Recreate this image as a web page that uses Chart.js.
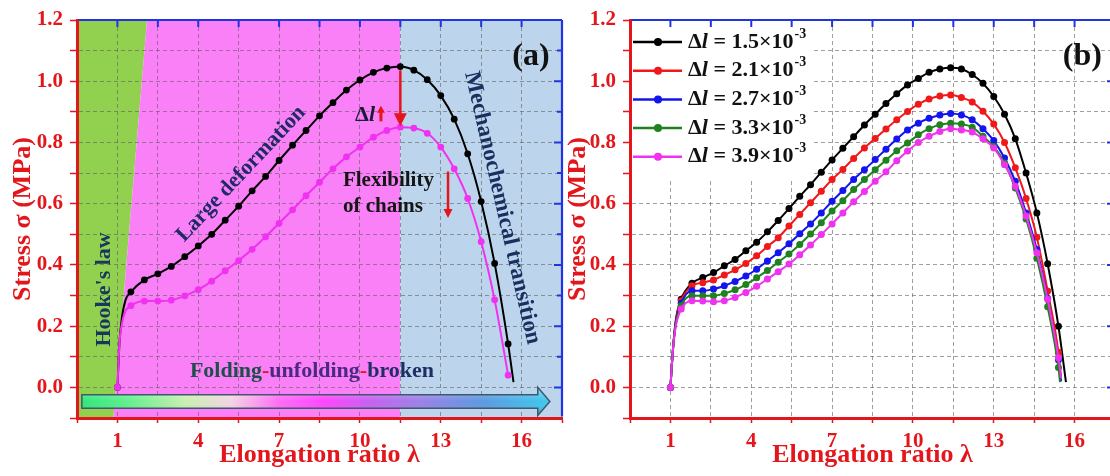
<!DOCTYPE html>
<html>
<head>
<meta charset="utf-8">
<style>
html,body{margin:0;padding:0;width:1110px;height:476px;overflow:hidden;background:#fff;}
#ca{position:absolute;left:0;top:0;}
#cb{position:absolute;left:553px;top:0;}
</style>
<script src="https://cdn.jsdelivr.net/npm/chart.js@4.4.1/dist/chart.umd.min.js"></script>
</head>
<body>
<canvas id="ca" width="570" height="476"></canvas>
<canvas id="cb" width="570" height="476"></canvas>
<script>
// ---------- axis ticks ----------
const xTickValues = [-0.5, 1, 2.5, 4, 5.5, 7, 8.5, 10, 11.5, 13, 14.5, 16, 17.5];
const xTickLabels = ['', '1', '', '4', '', '7', '', '10', '', '13', '', '16', ''];
const yTickValues = [-0.1, 0, 0.1, 0.2, 0.3, 0.4, 0.5, 0.6, 0.7, 0.8, 0.9, 1.0, 1.1, 1.2];
const yTickLabels = ['', '0.0', '', '0.2', '', '0.4', '', '0.6', '', '0.8', '', '1.0', '', '1.2'];

// ---------- panel (a) ----------
const aBlackX = [1, 1.08, 1.17, 1.3, 1.5, 2, 2.5, 3, 3.5, 4, 4.5, 5, 5.5, 6, 6.5, 7, 7.5, 8, 8.5, 9, 9.5, 10, 10.5, 11, 11.5, 12, 12.5, 13, 13.5, 14, 14.5, 15, 15.5, 15.7];
const aBlackY = [0, 0.15, 0.23, 0.285, 0.312, 0.351, 0.371, 0.395, 0.427, 0.462, 0.50, 0.546, 0.592, 0.642, 0.689, 0.741, 0.791, 0.839, 0.887, 0.930, 0.971, 1.004, 1.029, 1.043, 1.048, 1.036, 1.005, 0.953, 0.876, 0.763, 0.607, 0.405, 0.142, 0.017];
const aPinkX = [1, 1.08, 1.17, 1.3, 1.5, 2, 2.5, 3, 3.5, 4, 4.5, 5, 5.5, 6, 6.5, 7, 7.5, 8, 8.5, 9, 9.5, 10, 10.5, 11, 11.5, 12, 12.5, 13, 13.5, 14, 14.5, 15, 15.5];
const aPinkY = [0, 0.15, 0.21, 0.25, 0.267, 0.282, 0.282, 0.285, 0.299, 0.319, 0.347, 0.381, 0.414, 0.451, 0.492, 0.536, 0.580, 0.626, 0.670, 0.714, 0.753, 0.785, 0.817, 0.839, 0.850, 0.847, 0.830, 0.785, 0.714, 0.617, 0.476, 0.286, 0.04];

// ---------- panel (b) ----------
const bX = [1, 1.1, 1.2, 1.4, 1.8, 2.2, 2.6, 3.0, 3.4, 3.8, 4.2, 4.6, 5.0, 5.4, 5.8, 6.2, 6.6, 7.0, 7.4, 7.8, 8.2, 8.6, 9.0, 9.4, 9.8, 10.2, 10.6, 11.0, 11.4, 11.8, 12.2, 12.6, 13.0, 13.4, 13.8, 14.2, 14.6, 15.0, 15.4];
const bBlack = [0, 0.13, 0.22, 0.288, 0.34, 0.359, 0.375, 0.397, 0.418, 0.446, 0.474, 0.508, 0.545, 0.584, 0.624, 0.662, 0.703, 0.743, 0.781, 0.819, 0.857, 0.892, 0.927, 0.959, 0.988, 1.009, 1.029, 1.040, 1.044, 1.040, 1.022, 0.993, 0.950, 0.892, 0.812, 0.70, 0.57, 0.404, 0.20];
const bRed = [0, 0.13, 0.215, 0.283, 0.332, 0.342, 0.351, 0.367, 0.384, 0.405, 0.43, 0.46, 0.489, 0.527, 0.565, 0.603, 0.641, 0.679, 0.712, 0.748, 0.782, 0.813, 0.844, 0.874, 0.901, 0.925, 0.942, 0.952, 0.955, 0.947, 0.932, 0.902, 0.86, 0.80, 0.717, 0.617, 0.49, 0.315, 0.115];
const bBlue = [0, 0.13, 0.21, 0.275, 0.316, 0.316, 0.321, 0.332, 0.346, 0.364, 0.386, 0.413, 0.44, 0.469, 0.502, 0.534, 0.57, 0.608, 0.643, 0.679, 0.711, 0.744, 0.778, 0.811, 0.841, 0.863, 0.879, 0.89, 0.895, 0.89, 0.874, 0.845, 0.806, 0.749, 0.673, 0.57, 0.45, 0.29, 0.09];
const bGreen = [0, 0.13, 0.205, 0.267, 0.299, 0.299, 0.299, 0.307, 0.319, 0.336, 0.358, 0.382, 0.409, 0.436, 0.467, 0.501, 0.538, 0.576, 0.61, 0.646, 0.679, 0.711, 0.742, 0.773, 0.798, 0.825, 0.845, 0.858, 0.863, 0.86, 0.85, 0.82, 0.787, 0.733, 0.651, 0.55, 0.422, 0.263, 0.065];
const bPink = [0, 0.13, 0.2, 0.256, 0.283, 0.282, 0.28, 0.283, 0.294, 0.31, 0.33, 0.354, 0.378, 0.403, 0.433, 0.465, 0.499, 0.534, 0.57, 0.606, 0.64, 0.673, 0.704, 0.74, 0.772, 0.80, 0.82, 0.836, 0.845, 0.841, 0.834, 0.812, 0.782, 0.727, 0.657, 0.56, 0.44, 0.288, 0.097];
const bEndX = [15.68, 15.5, 15.5, 15.46, 15.5];
const bEndY = [0.017, 0.03, 0.02, 0.017, 0.03];
const bDl = ['1.5', '2.1', '2.7', '3.3', '3.9'];

// ---------- styles ----------
const RED = '#e3161c', BLUE = '#2035e0', GRID = 'rgba(95,95,95,0.6)';
const FONT = "'Liberation Serif', 'Times New Roman', serif";
Chart.defaults.font.family = FONT;
const bColors = ['#000000', '#f01818', '#1414ee', '#1e821e', '#f032f0'];

function pts(xs, ys) { return xs.map((x, i) => ({ x: x, y: ys[i] })); }
const markA = x => Math.abs(x * 2 - Math.round(x * 2)) < 1e-6;
const markB = x => x === 1 || (x >= 1.39 && x <= 15.41 && Math.abs((x - 1.4) / 0.4 - Math.round((x - 1.4) / 0.4)) < 1e-6);

function ds(data, color, order, markFn, r) {
  return {
    data: data, borderColor: color, backgroundColor: color, borderWidth: 2,
    pointBackgroundColor: color, pointBorderColor: color, pointBorderWidth: 0,
    pointRadius: c => (c.raw && markFn(c.raw.x)) ? r : 0,
    cubicInterpolationMode: 'monotone', tension: 0.4, order: order, fill: false
  };
}

function fontStr(size, italic) { return (italic ? 'italic ' : '') + 'bold ' + size + 'px ' + FONT; }
function P(chart, x, y) { return [chart.scales.x.getPixelForValue(x), chart.scales.y.getPixelForValue(y)]; }
function txt(ctx, s, x, y, size, color, rotDeg, align) {
  ctx.save();
  ctx.translate(x, y);
  ctx.rotate((rotDeg || 0) * Math.PI / 180);
  ctx.font = fontStr(size);
  ctx.fillStyle = color;
  ctx.textAlign = align || 'center';
  ctx.textBaseline = 'middle';
  ctx.fillText(s, 0, 0);
  ctx.restore();
}
function vArrow(ctx, x, yFrom, yTip, color, lw, headL, headW) {
  const dir = yTip > yFrom ? 1 : -1;
  ctx.save();
  ctx.strokeStyle = color; ctx.fillStyle = color; ctx.lineWidth = lw;
  ctx.beginPath(); ctx.moveTo(x, yFrom); ctx.lineTo(x, yTip - dir * headL * 0.6); ctx.stroke();
  ctx.beginPath(); ctx.moveTo(x, yTip); ctx.lineTo(x - headW / 2, yTip - dir * headL); ctx.lineTo(x + headW / 2, yTip - dir * headL); ctx.closePath(); ctx.fill();
  ctx.restore();
}

// frame plugin: top and right blue axes
const framePlugin = {
  id: 'frame',
  afterDatasetsDraw(chart) {
    const { ctx, chartArea: a } = chart;
    ctx.save();
    ctx.strokeStyle = BLUE; ctx.lineWidth = 2.2;
    ctx.beginPath();
    ctx.moveTo(a.left + 1.5, a.top); ctx.lineTo(a.right, a.top);
    ctx.moveTo(a.right, a.top); ctx.lineTo(a.right, a.bottom - 1.5);
    ctx.stroke();
    ctx.lineWidth = 2;
    ctx.beginPath();
    xTickValues.slice(1, -1).forEach(v => {
      const p = chart.scales.x.getPixelForValue(v);
      ctx.moveTo(p, a.top); ctx.lineTo(p, a.top + 7);
    });
    yTickValues.slice(1, -1).forEach((v, i) => {
      const p = chart.scales.y.getPixelForValue(v);
      const len = yTickLabels[i + 1] ? 8 : 5;
      ctx.moveTo(a.right, p); ctx.lineTo(a.right - len, p);
    });
    ctx.stroke();
    ctx.restore();
  }
};

// background zones for (a)
const zonesA = {
  id: 'zonesA',
  beforeDraw(chart) {
    const { ctx } = chart;
    const poly = (pts, color) => {
      ctx.beginPath();
      pts.forEach((p, i) => { const q = P(chart, p[0], p[1]); if (i) ctx.lineTo(q[0], q[1]); else ctx.moveTo(q[0], q[1]); });
      ctx.closePath(); ctx.fillStyle = color; ctx.fill();
    };
    ctx.save();
    poly([[-0.5, -0.1], [-0.5, 1.2], [2.1, 1.2], [0.85, -0.1]], '#92d050');
    poly([[0.85, -0.1], [2.1, 1.2], [11.5, 1.2], [11.5, -0.1]], '#fa80f7');
    poly([[11.5, -0.1], [11.5, 1.2], [17.5, 1.2], [17.5, -0.1]], '#bcd5ec');
    ctx.restore();
  }
};

// annotations for (a)
const annotA = {
  id: 'annotA',
  beforeDatasetsDraw(chart) {
    const { ctx } = chart;
    const [x0, yT] = P(chart, -0.32, -0.024);
    const [, yB] = P(chart, 0, -0.068);
    const [hx, hT] = P(chart, 16.6, 0.0);
    const [, hB] = P(chart, 0, -0.092);
    const [tip, yM] = P(chart, 17.05, -0.046);
    ctx.save();
    const g = ctx.createLinearGradient(x0, 0, tip, 0);
    g.addColorStop(0, '#2ee878');
    g.addColorStop(0.1, '#62ef8c');
    g.addColorStop(0.22, '#c9efb0');
    g.addColorStop(0.32, '#f4d4e4');
    g.addColorStop(0.42, '#ff6cf6');
    g.addColorStop(0.52, '#ff44ff');
    g.addColorStop(0.62, '#c462f0');
    g.addColorStop(0.72, '#9c80e8');
    g.addColorStop(0.86, '#5a9ae0');
    g.addColorStop(1, '#3ecaee');
    ctx.beginPath();
    ctx.moveTo(x0, yT); ctx.lineTo(hx, yT); ctx.lineTo(hx, hT); ctx.lineTo(tip, yM);
    ctx.lineTo(hx, hB); ctx.lineTo(hx, yB); ctx.lineTo(x0, yB); ctx.closePath();
    ctx.fillStyle = g; ctx.fill();
    const sh = ctx.createLinearGradient(0, hT, 0, hB);
    sh.addColorStop(0, 'rgba(255,255,255,0.35)');
    sh.addColorStop(0.5, 'rgba(255,255,255,0)');
    sh.addColorStop(1, 'rgba(0,0,0,0.18)');
    ctx.fillStyle = sh; ctx.fill();
    ctx.strokeStyle = '#3f5870'; ctx.lineWidth = 1.5; ctx.stroke();
    ctx.restore();
  },
  afterDatasetsDraw(chart) {
    const { ctx } = chart;
    let p;
    p = P(chart, 0.5, 0.32); txt(ctx, "Hooke's law", p[0], p[1], 22, '#17375e', -90);
    p = P(chart, 5.59, 0.697); txt(ctx, 'Large deformation', p[0], p[1], 22, '#1f2a66', -46.7);
    p = P(chart, 15.28, 0.586); txt(ctx, 'Mechanochemical transition', p[0], p[1], 23, '#1b3060', 77);
    p = P(chart, 16.35, 1.079); txt(ctx, '(a)', p[0], p[1], 32, '#111111', 0);
    p = P(chart, 9.37, 0.674); txt(ctx, 'Flexibility', p[0], p[1], 21, '#151515', 0, 'left');
    p = P(chart, 9.37, 0.592); txt(ctx, 'of chains', p[0], p[1], 21, '#151515', 0, 'left');
    // Δl
    p = P(chart, 10.19, 0.89);
    ctx.save();
    ctx.textBaseline = 'middle'; ctx.fillStyle = '#1a1a3a';
    ctx.font = fontStr(22); const wD = ctx.measureText('Δ').width;
    ctx.font = fontStr(22, true); const wL = ctx.measureText('l').width;
    let sx = p[0] - (wD + wL) / 2;
    ctx.font = fontStr(22); ctx.fillText('Δ', sx, p[1]);
    ctx.font = fontStr(22, true); ctx.fillText('l', sx + wD, p[1]);
    ctx.restore();
    // red arrows
    let a1 = P(chart, 11.5, 1.035), a2 = P(chart, 11.5, 0.853);
    vArrow(ctx, a1[0], a1[1], a2[1], RED, 2.5, 13, 13);
    a1 = P(chart, 10.78, 0.869); a2 = P(chart, 10.78, 0.92);
    vArrow(ctx, a1[0], a1[1], a2[1], RED, 3, 7, 8);
    a1 = P(chart, 13.27, 0.705); a2 = P(chart, 13.27, 0.553);
    vArrow(ctx, a1[0], a1[1], a2[1], RED, 2.5, 9, 9);
    // Folding-unfolding-broken
    const parts = [['Folding', '#1e4d4a'], ['-', RED], ['unfolding', '#4a2a80'], ['-', RED], ['broken', '#1f2f66']];
    ctx.save();
    ctx.font = fontStr(22); ctx.textBaseline = 'middle'; ctx.textAlign = 'left';
    const total = parts.reduce((s, q) => s + ctx.measureText(q[0]).width, 0);
    p = P(chart, 8.22, 0.054);
    let cx = p[0] - total / 2;
    parts.forEach(q => { ctx.fillStyle = q[1]; ctx.fillText(q[0], cx, p[1]); cx += ctx.measureText(q[0]).width; });
    ctx.restore();
  }
};

// legend + label for (b)
const annotB = {
  id: 'annotB',
  beforeDatasetsDraw(chart) {
    const { ctx, chartArea: a } = chart;
    ctx.save();
    ctx.fillStyle = '#ffffff';
    ctx.fillRect(a.left + 2, a.top + 1.5, 181, 157);
    bColors.forEach((c, i) => {
      const yy = a.top + 22 + i * 28.7;
      ctx.strokeStyle = c; ctx.lineWidth = 2.5;
      ctx.beginPath(); ctx.moveTo(a.left + 3, yy); ctx.lineTo(a.left + 52, yy); ctx.stroke();
      ctx.fillStyle = c; ctx.beginPath(); ctx.arc(a.left + 28, yy, 4, 0, Math.PI * 2); ctx.fill();
      ctx.fillStyle = '#111111'; ctx.textBaseline = 'middle'; ctx.textAlign = 'left';
      let tx = a.left + 58;
      ctx.font = fontStr(22); ctx.fillText('Δ', tx, yy); tx += ctx.measureText('Δ').width;
      ctx.font = fontStr(22, true); ctx.fillText('l', tx, yy); tx += ctx.measureText('l').width;
      ctx.font = fontStr(22); const s = ' = ' + bDl[i] + '×10'; ctx.fillText(s, tx, yy); tx += ctx.measureText(s).width;
      ctx.font = fontStr(14); ctx.fillText('-3', tx + 1, yy - 8);
    });
    ctx.restore();
  },
  afterDatasetsDraw(chart) {
    const p = P(chart, 16.29, 1.079);
    txt(chart.ctx, '(b)', p[0], p[1], 32, '#111111', 0);
  }
};

function makeChart(id, datasets, titlePad, plugins) {
  return new Chart(document.getElementById(id), {
    type: 'line',
    data: { datasets: datasets },
    options: {
      responsive: false, animation: false, events: [],
      layout: { padding: { left: 0, right: 8, top: 20, bottom: 0 } },
      plugins: { legend: { display: false }, tooltip: { enabled: false } },
      scales: {
        x: {
          type: 'linear', min: -0.5, max: 17.5,
          afterBuildTicks: s => { s.ticks = xTickValues.map(v => ({ value: v })); },
          afterFit: s => { s.height = 58; },
          ticks: { autoSkip: false, maxRotation: 0, minRotation: 0, color: RED, padding: 6,
            font: { size: 21, weight: 'bold' },
            callback: v => { const i = xTickValues.indexOf(v); return i >= 0 ? xTickLabels[i] : ''; } },
          grid: { color: GRID, lineWidth: 1, tickColor: RED, tickLength: 5, tickWidth: 1.5 },
          border: { display: true, color: RED, width: 3, dash: [4, 3] },
          title: { display: true, text: 'Elongation ratio λ', color: RED, font: { size: 26, weight: 'bold' }, padding: { top: 0, bottom: 5 } }
        },
        y: {
          type: 'linear', min: -0.1, max: 1.2,
          afterBuildTicks: s => { s.ticks = yTickValues.map(v => ({ value: v })); },
          afterFit: s => { s.width = 77; },
          ticks: { autoSkip: false, color: RED, padding: 7, font: { size: 21, weight: 'bold' },
            callback: v => { const i = yTickValues.indexOf(v); return i >= 0 ? yTickLabels[i] : ''; } },
          grid: { color: GRID, lineWidth: 1, tickColor: RED, tickLength: 7, tickWidth: 1.5 },
          border: { display: true, color: RED, width: 3, dash: [4, 3] },
          title: { display: true, text: 'Stress σ (MPa)', color: RED, font: { size: 26, weight: 'bold' }, padding: { top: titlePad, bottom: 0 } }
        }
      }
    },
    plugins: plugins
  });
}

makeChart('ca', [
  ds(pts(aBlackX, aBlackY), '#000000', 2, markA, 3.4),
  ds(pts(aPinkX, aPinkY), '#f032f0', 1, markA, 3.4)
], 8, [zonesA, annotA, framePlugin]);

const bSeries = [bBlack, bRed, bBlue, bGreen, bPink];
makeChart('cb', bSeries.map((ys, i) =>
  ds(pts(bX.concat([bEndX[i]]), ys.concat([bEndY[i]])), bColors[i], 5 - i, markB, 3.5)
), 10, [annotB, framePlugin]);
</script>
</body>
</html>
